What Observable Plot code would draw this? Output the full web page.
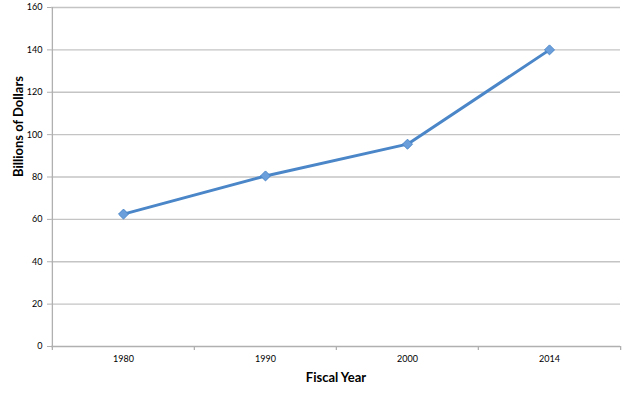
<!DOCTYPE html>
<html><head><meta charset="utf-8">
<script src="https://cdn.jsdelivr.net/npm/d3@7"></script>
<script src="https://cdn.jsdelivr.net/npm/@observablehq/plot@0.6"></script>
<style>body{margin:0;background:#fff;} svg{font-family:Lato,"Open Sans",sans-serif;}</style>
</head><body><div id="chart"></div>
<script>
const years = ["1980", "1990", "2000", "2014"];
const billions = [62.5, 80.5, 95.5, 140];
const yTicks = [0, 20, 40, 60, 80, 100, 120, 140, 160];
const data = years.map((y, i) => ({year: y, value: billions[i]}));

const W = 630, H = 394, mL = 51, mR = 10, mT = 7, mB = 48;
const step = (W - mL - mR) / years.length;
const axisGray = "#b0b0b0";

const chart = Plot.plot({
  width: W, height: H,
  marginLeft: mL, marginRight: mR, marginTop: mT, marginBottom: mB,
  style: {fontFamily: "Lato, 'Open Sans', sans-serif", fontSize: "9px", color: "#000", background: "#fff"},
  x: {type: "point", domain: years, padding: 0.5, label: null},
  y: {domain: [0, 160], ticks: yTicks, label: null},
  marks: [
    Plot.gridY(yTicks.filter(d => d > 0), {stroke: "#c4c4c4", strokeOpacity: 1, strokeWidth: 1.3}),
    Plot.axisY({ticks: yTicks, tickSize: 4, tickPadding: 5, stroke: axisGray, label: null, fontSize: 9}),
    Plot.ruleX([years[0]], {dx: -step/2, y1: 0, y2: 160, stroke: axisGray, strokeWidth: 1.3}),
    Plot.ruleX(years, {dx: -step/2, y1: 0, y2: 0, insetBottom: -4, stroke: axisGray, strokeWidth: 1.3}),
    Plot.ruleX([years[years.length-1]], {dx: step/2, y1: 0, y2: 0, insetBottom: -4, stroke: axisGray, strokeWidth: 1.3}),
    Plot.ruleY([0], {stroke: axisGray, strokeWidth: 1.3}),
    Plot.axisX({tickSize: 0, tickPadding: 9, label: null, fontSize: 9}),
    Plot.line(data, {x: "year", y: "value", stroke: "#4a86c8", strokeWidth: 3}),
    Plot.dot(data, {x: "year", y: "value", symbol: "diamond2", r: 4.5, fill: "#6a9fdc", stroke: "#4a86c8", strokeWidth: 1}),
    Plot.text(["Fiscal Year"], {frameAnchor: "bottom", dy: 35, fontWeight: "bold", fontSize: 13}),
    Plot.text(["Billions of Dollars"], {frameAnchor: "left", dx: -33, rotate: -90, fontWeight: "bold", fontSize: 13})
  ]
});
document.getElementById("chart").append(chart);
</script>
</body></html>
